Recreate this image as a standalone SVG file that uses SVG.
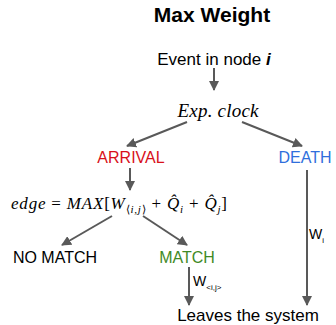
<svg xmlns="http://www.w3.org/2000/svg" width="336" height="325" viewBox="0 0 336 325">
<defs>
<marker id="ah" viewBox="0 0 10 10" refX="9" refY="5" markerWidth="5" markerHeight="5" markerUnits="strokeWidth" orient="auto">
<path d="M0,0 L10,5 L0,10 z" fill="#595959"/>
</marker>
<style>
.s{font-family:"Liberation Sans",Arial,sans-serif;fill:#000}
.m{font-family:"Liberation Serif","Times New Roman",serif;font-style:italic;fill:#000}
.c{stroke:#595959;stroke-width:2;fill:none;marker-end:url(#ah)}
</style>
</defs>
<rect width="336" height="325" fill="#fff"/>
<g id="title"><text class="s" x="212" y="22" font-size="21" font-weight="bold" text-anchor="middle">Max Weight</text></g>
<g id="event"><text class="s" x="214" y="65" font-size="17" text-anchor="middle">Event in node <tspan font-weight="bold" font-style="italic">i</tspan></text></g>
<g id="clock"><text class="m" x="218" y="117" font-size="19" text-anchor="middle" textLength="81">Exp. clock</text></g>
<g id="arrival"><text class="s" x="131" y="163" font-size="16" style="fill:#d8101a" text-anchor="middle">ARRIVAL</text></g>
<g id="death"><text class="s" x="305" y="163" font-size="16" style="fill:#2f6fdc" text-anchor="middle">DEATH</text></g>
<g id="edge"><text class="m" x="11" y="209" font-size="17" textLength="216">edge <tspan font-style="normal">=</tspan> MAX<tspan font-style="normal">[</tspan>W<tspan font-size="11" dy="4"><tspan font-style="normal">⟨</tspan>i,j<tspan font-style="normal">⟩</tspan></tspan><tspan dy="-4" font-style="normal"> + </tspan>Q̂<tspan font-size="11" dy="4">i</tspan><tspan dy="-4" font-style="normal"> + </tspan>Q̂<tspan dy="4" font-size="11">j</tspan><tspan dy="-4" font-style="normal">]</tspan></text></g>
<g id="nomatch"><text class="s" x="55" y="263" font-size="16" text-anchor="middle">NO MATCH</text></g>
<g id="match"><text class="s" x="187" y="263" font-size="16" style="fill:#3f8a26" text-anchor="middle">MATCH</text></g>
<g id="leaves"><text class="s" x="248" y="321" font-size="17" text-anchor="middle">Leaves the system</text></g>
<g id="connectors">
<line class="c" x1="214" y1="68" x2="214" y2="90"/>
<line class="c" x1="187" y1="122" x2="127" y2="146"/>
<line class="c" x1="242" y1="122" x2="302" y2="146"/>
<line class="c" x1="130" y1="168" x2="130" y2="190"/>
<line class="c" x1="112" y1="216" x2="62" y2="245"/>
<line class="c" x1="143" y1="216" x2="187" y2="245"/>
<line class="c" x1="189" y1="267" x2="189" y2="305"/>
<line class="c" x1="307" y1="170" x2="307" y2="305"/>
<text class="s" x="193" y="286" font-size="14">W<tspan font-size="8" dy="4">&lt;i,j&gt;</tspan></text>
<text class="s" x="309" y="239" font-size="14">W<tspan font-size="8" dy="4">i</tspan></text>
</g>
</svg>
